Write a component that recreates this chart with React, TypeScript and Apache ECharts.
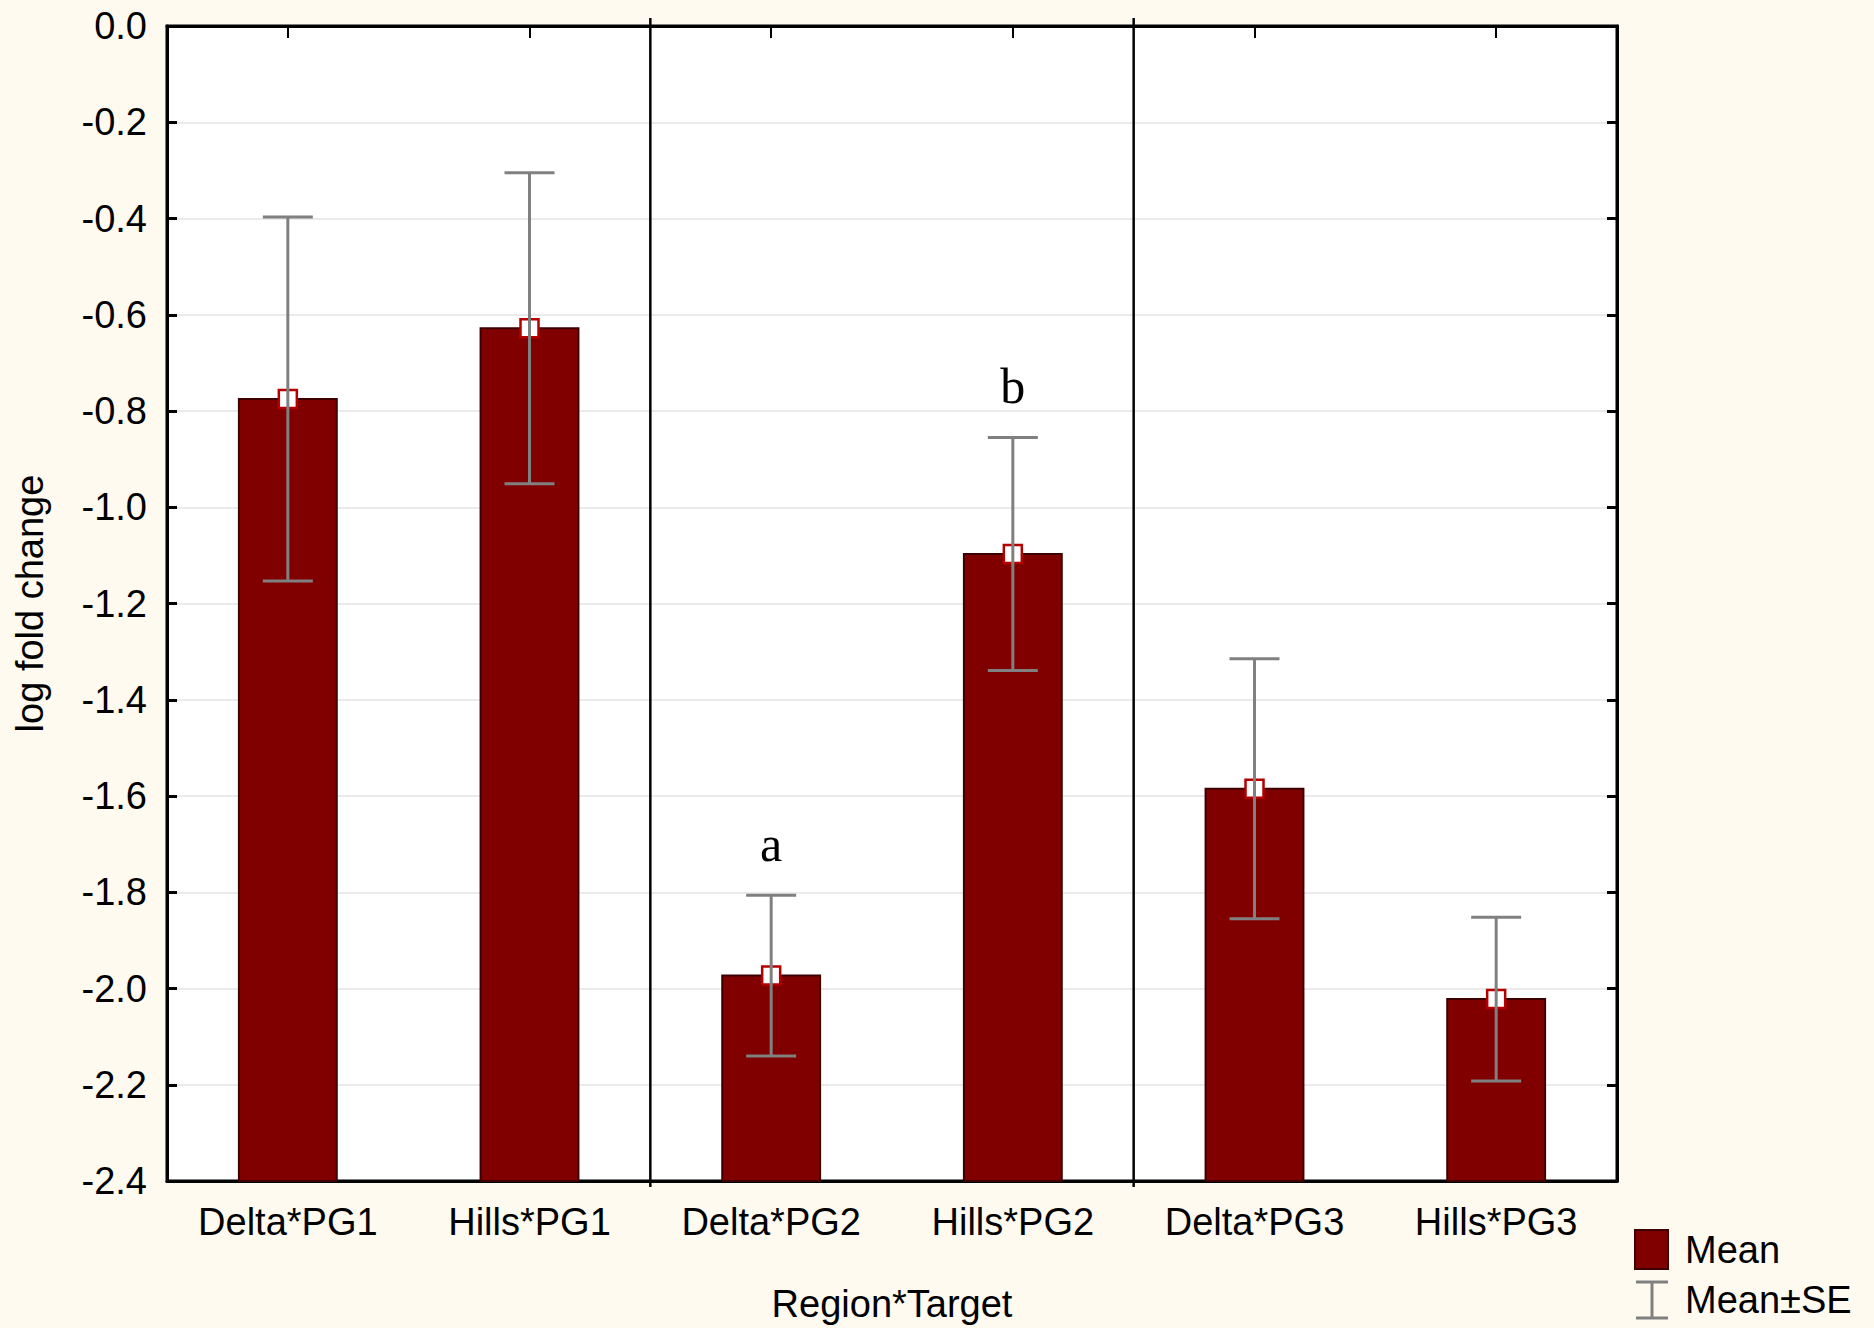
import React, { useEffect, useRef } from "react";
import * as echarts from "echarts";

const categories = ["Delta*PG1", "Hills*PG1", "Delta*PG2", "Hills*PG2", "Delta*PG3", "Hills*PG3"];
const means = [-0.775, -0.628, -1.973, -1.097, -1.585, -2.022];
const seValues = [0.378, 0.323, 0.167, 0.242, 0.27, 0.17];
const letters = ["", "", "a", "b", "", ""];
const yMin = -2.4;
const yMax = 0;
const yStep = 0.2;
const xAxisName = "Region*Target";
const yAxisName = "log fold change";
const legendLabels = ["Mean", "Mean±SE"];

const targetOf = (c: string) => c.split("*")[1];
const separatorAfter = categories
  .map((c, i) => (i < categories.length - 1 && targetOf(c) !== targetOf(categories[i + 1]) ? i : -1))
  .filter((i) => i >= 0);

const FONT = "'Liberation Sans', Arial, sans-serif";
const BG = "#fefaef";
const BAR = "#800000";
const ERR = "#808080";

export default function App() {
  const ref = useRef<HTMLDivElement>(null);
  useEffect(() => {
    if (!ref.current) return;
    const chart = echarts.init(ref.current, null, { renderer: "svg" });
    const axisLine = { show: true, onZero: false, lineStyle: { color: "#000", width: 3 } };
    const option: any = {
      animation: false,
      backgroundColor: BG,
      grid: {
        left: 167,
        top: 26,
        width: 1450,
        height: 1157,
        show: true,
        backgroundColor: "#fff",
        borderColor: "#000",
        borderWidth: 3,
      },
      xAxis: [
        {
          type: "category",
          data: categories,
          position: "bottom",
          axisLine,
          axisTick: { show: true, inside: true, alignWithLabel: true, length: 10, lineStyle: { color: "#000", width: 2 } },
          axisLabel: { fontSize: 38, color: "#000", margin: 22, fontFamily: FONT },
          name: xAxisName,
          nameLocation: "middle",
          nameGap: 104,
          nameTextStyle: { fontSize: 38, color: "#000", fontFamily: FONT },
          z: 10,
        },
        {
          type: "category",
          data: categories,
          position: "top",
          axisLine,
          axisTick: { show: true, inside: true, alignWithLabel: true, length: 12, lineStyle: { color: "#000", width: 2 } },
          axisLabel: { show: false },
          z: 10,
        },
      ],
      yAxis: [
        {
          type: "value",
          min: yMin,
          max: yMax,
          interval: yStep,
          axisLine,
          axisTick: { show: true, inside: true, length: 10, lineStyle: { color: "#000", width: 3 } },
          axisLabel: {
            fontSize: 38,
            color: "#000",
            margin: 20,
            fontFamily: FONT,
            formatter: (v: number) => v.toFixed(1),
          },
          splitLine: { show: true, lineStyle: { color: "#e4e4e4", width: 1.5 } },
          name: yAxisName,
          nameLocation: "middle",
          nameGap: 118,
          nameRotate: 90,
          nameTextStyle: { fontSize: 38, color: "#000", fontFamily: FONT },
          z: 10,
        },
        {
          type: "value",
          position: "right",
          min: yMin,
          max: yMax,
          interval: yStep,
          axisLine,
          axisTick: { show: true, inside: true, length: 10, lineStyle: { color: "#000", width: 3 } },
          axisLabel: { show: false },
          splitLine: { show: false },
          z: 10,
        },
      ],
      series: [
        {
          type: "custom",
          name: "separators",
          xAxisIndex: 0,
          yAxisIndex: 0,
          data: separatorAfter.map((i) => [i, yMax]),
          renderItem: (_p: any, api: any) => {
            const i = api.value(0);
            const bw = api.size([1, 0])[0];
            const x = api.coord([i, yMax])[0] + bw / 2;
            const yT = api.coord([i, yMax])[1];
            const yB = api.coord([i, yMin])[1];
            return {
              type: "line",
              shape: { x1: x, y1: yT - 8, x2: x, y2: yB + 6 },
              style: { stroke: "#000", lineWidth: 2.5 },
            };
          },
          z: 21,
        },
        {
          type: "custom",
          name: "Mean",
          xAxisIndex: 0,
          yAxisIndex: 0,
          data: means.map((m, i) => [i, m, seValues[i]]),
          encode: { x: 0, y: 1 },
          renderItem: (p: any, api: any) => {
            const i = api.value(0);
            const m = api.value(1);
            const s = api.value(2);
            const bw = api.size([1, 0])[0];
            const [cx, yTop] = api.coord([i, m]);
            const yBase = api.coord([i, yMin])[1];
            const yHi = api.coord([i, m + s])[1];
            const yLo = api.coord([i, m - s])[1];
            const barW = bw * 0.405;
            const cap = 25;
            const children: any[] = [
              {
                type: "rect",
                shape: { x: cx - barW / 2, y: yTop, width: barW, height: yBase - yTop },
                style: { fill: BAR, stroke: "#3d0000", lineWidth: 2 },
              },
              {
                type: "rect",
                shape: { x: cx - 9, y: yTop - 9, width: 18, height: 18 },
                style: { fill: "#fff", stroke: "#b40000", lineWidth: 2.5 },
              },
              { type: "line", shape: { x1: cx, y1: yHi, x2: cx, y2: yLo }, style: { stroke: ERR, lineWidth: 3 } },
              { type: "line", shape: { x1: cx - cap, y1: yHi, x2: cx + cap, y2: yHi }, style: { stroke: ERR, lineWidth: 3 } },
              { type: "line", shape: { x1: cx - cap, y1: yLo, x2: cx + cap, y2: yLo }, style: { stroke: ERR, lineWidth: 3 } },
            ];
            const letter = letters[p.dataIndex];
            if (letter) {
              children.push({
                type: "text",
                x: cx,
                y: yHi - 26,
                style: {
                  text: letter,
                  fill: "#000",
                  font: "50px 'Liberation Serif', 'Times New Roman', serif",
                  textAlign: "center",
                  textVerticalAlign: "bottom",
                },
              });
            }
            return { type: "group", children };
          },
          z: 20,
        },
      ],
      graphic: [
        {
          type: "rect",
          shape: { x: 1635, y: 1230, width: 33, height: 39 },
          style: { fill: BAR, stroke: "#3d0000", lineWidth: 2 },
        },
        {
          type: "text",
          x: 1685,
          y: 1250,
          style: { text: legendLabels[0], font: `38px ${FONT}`, fill: "#000", textVerticalAlign: "middle" },
        },
        { type: "line", shape: { x1: 1652, y1: 1282, x2: 1652, y2: 1318 }, style: { stroke: ERR, lineWidth: 3 } },
        { type: "line", shape: { x1: 1636, y1: 1282, x2: 1668, y2: 1282 }, style: { stroke: ERR, lineWidth: 3 } },
        { type: "line", shape: { x1: 1636, y1: 1318, x2: 1668, y2: 1318 }, style: { stroke: ERR, lineWidth: 3 } },
        {
          type: "text",
          x: 1685,
          y: 1300,
          style: { text: legendLabels[1], font: `38px ${FONT}`, fill: "#000", textVerticalAlign: "middle" },
        },
      ],
    };
    chart.setOption(option);
    return () => chart.dispose();
  }, []);
  return (
    <div
      ref={ref}
      style={{ position: "fixed", left: 0, top: 0, width: 1874, height: 1328, background: BG }}
    />
  );
}
